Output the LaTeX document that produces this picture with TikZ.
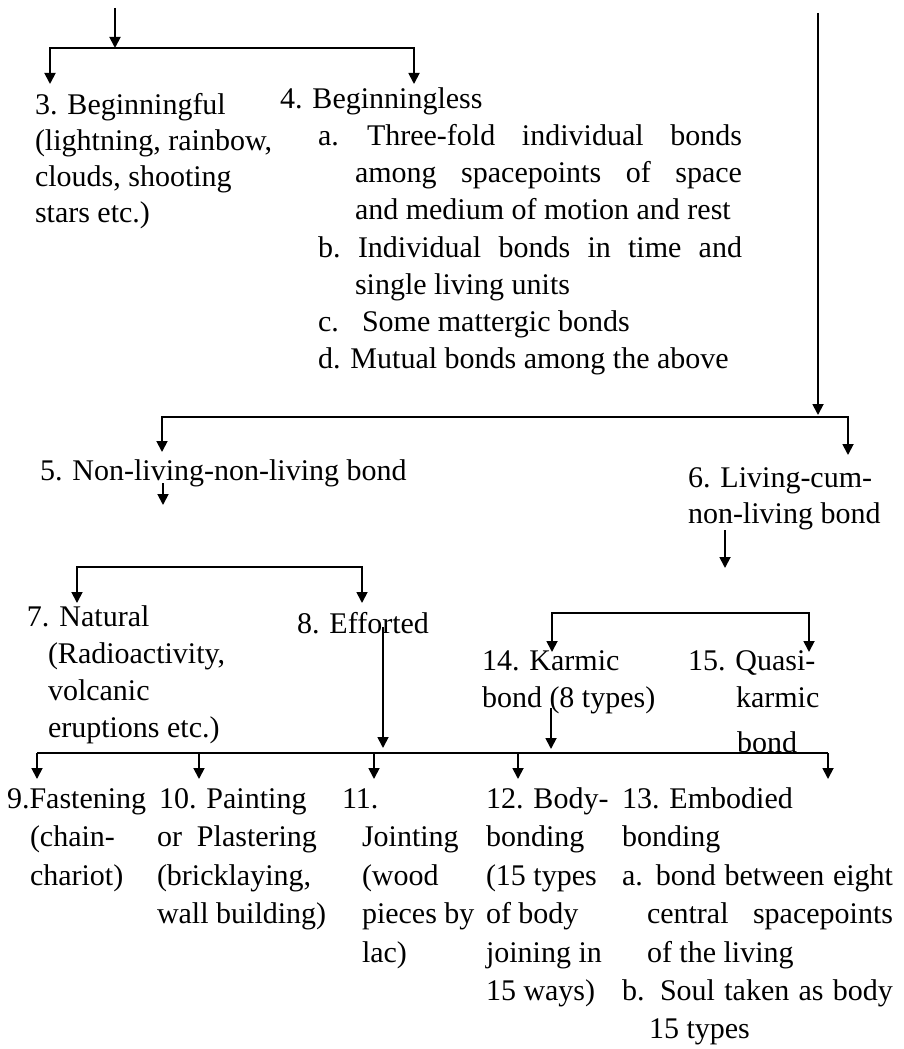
\documentclass[tikz,border=0pt]{standalone}
\usepackage{fontspec}
\setmainfont{Liberation Serif}
\usetikzlibrary{arrows.meta}
\begin{document}
\begin{tikzpicture}[x=1pt,y=-1pt,
  font=\fontsize{30}{36}\selectfont,
  txt/.style={anchor=base west, inner sep=0pt, outer sep=0pt},
  arr/.style={line width=1.8pt, -{Triangle[width=11pt,length=11pt]}},
  ln/.style={line width=1.8pt}]
\useasboundingbox (0,0) rectangle (904,1049);

% ---------- texts ----------
\node[txt] (t3a) at (35,114) {3. Beginningful};
\node[txt] (t3b) at (35,150) {(lightning, rainbow,};
\node[txt] (t3c) at (35,186) {clouds, shooting};
\node[txt] (t3d) at (35,222) {stars etc.)};

\node[txt] (t4)  at (280,108) {4. Beginningless};
\node[txt] (t4a) at (318,145) {a.};
\node[txt] (t4a1) at (367,145) {\makebox[375pt][s]{Three-fold individual bonds}};
\node[txt] (t4a2) at (355,182) {\makebox[387pt][s]{among spacepoints of space}};
\node[txt] (t4a3) at (355,219) {and medium of motion and rest};
\node[txt] (t4b) at (318,257) {b.};
\node[txt] (t4b1) at (358,257) {\makebox[384pt][s]{Individual bonds in time and}};
\node[txt] (t4b2) at (355,294) {single living units};
\node[txt] (t4c) at (318,331) {c.};
\node[txt] (t4c1) at (362,331) {Some mattergic bonds};
\node[txt] (t4d) at (318,368) {d. Mutual bonds among the above};

\node[txt] (t5) at (40,480) {5. Non-living-non-living bond};
\node[txt] (t6a) at (688,487) {6. Living-cum-};
\node[txt] (t6b) at (688,523) {non-living bond};

\node[txt] (t7a) at (27,626) {7. Natural};
\node[txt] (t7b) at (48,663) {(Radioactivity,};
\node[txt] (t7c) at (48,700) {volcanic};
\node[txt] (t7d) at (48,737) {eruptions etc.)};
\node[txt] (t8) at (297,633) {8. Efforted};

\node[txt] (t14a) at (482,670) {14. Karmic};
\node[txt] (t14b) at (482,707) {bond (8 types)};
\node[txt] (t15a) at (688,670) {15. Quasi-};
\node[txt] (t15b) at (736,707) {karmic};
\node[txt] (t15c) at (737,752) {bond};

\node[txt] (t9a) at (7,808) {9.Fastening};
\node[txt] (t9b) at (30,846) {(chain-};
\node[txt] (t9c) at (30,885) {chariot)};

\node[txt] (t10a) at (159,808) {10. Painting};
\node[txt] (t10b) at (157,846) {or\ \ Plastering};
\node[txt] (t10c) at (157,885) {(bricklaying,};
\node[txt] (t10d) at (157,923) {wall building)};

\node[txt] (t11a) at (342,808) {11.};
\node[txt] (t11b) at (362,846) {Jointing};
\node[txt] (t11c) at (362,885) {(wood};
\node[txt] (t11d) at (362,923) {pieces by};
\node[txt] (t11e) at (362,962) {lac)};

\node[txt] (t12a) at (486,808) {12. Body-};
\node[txt] (t12b) at (486,846) {bonding};
\node[txt] (t12c) at (486,885) {(15 types};
\node[txt] (t12d) at (486,923) {of body};
\node[txt] (t12e) at (486,962) {joining in};
\node[txt] (t12f) at (486,1000) {15 ways)};

\node[txt] (t13a) at (622,808) {13. Embodied};
\node[txt] (t13b) at (622,846) {bonding};
\node[txt] (t13c) at (622,885) {\makebox[271pt][s]{a. bond between eight}};
\node[txt] (t13d) at (647,923) {\makebox[246pt][s]{central spacepoints}};
\node[txt] (t13e) at (647,962) {of the living};
\node[txt] (t13f) at (622,1000) {\makebox[271pt][s]{b. Soul taken as body}};
\node[txt] (t13g) at (649,1038) {15 types};

% ---------- coordinates ----------
\coordinate (s1) at (115,8);
\coordinate (j1) at (115,48);
\coordinate (c1L) at (50,48);
\coordinate (c1R) at (414,48);
\coordinate (p3) at (50,84);
\coordinate (p4) at (414,84);

\coordinate (s2) at (818,13);
\coordinate (e2) at (818,415);
\coordinate (j2) at (818,417);
\coordinate (c2L) at (162,417);
\coordinate (c2R) at (848,417);
\coordinate (p5) at (162,452);
\coordinate (p6) at (848,455);

\coordinate (s5) at (163,483);
\coordinate (e5) at (163,505);
\coordinate (s6) at (725,530);
\coordinate (e6) at (725,568);

\coordinate (j3) at (220,567);
\coordinate (c3L) at (77,567);
\coordinate (c3R) at (362,567);
\coordinate (p7) at (77,603);
\coordinate (p8) at (362,603);

\coordinate (j4) at (680,613);
\coordinate (c4L) at (552,613);
\coordinate (c4R) at (809,613);
\coordinate (p14) at (552,652);
\coordinate (p15) at (809,652);

\coordinate (s8) at (383,627);
\coordinate (e8) at (383,748);
\coordinate (s14) at (551,708);
\coordinate (e14) at (551,749);

\coordinate (c5L) at (37,753);
\coordinate (c5R) at (828,753);
\coordinate (c5a) at (199,753);
\coordinate (c5b) at (374,753);
\coordinate (c5c) at (518,753);
\coordinate (p9) at (37,779);
\coordinate (p10) at (199,779);
\coordinate (p11) at (374,779);
\coordinate (p12) at (518,779);
\coordinate (p13) at (828,779);

% ---------- connectors ----------
\draw[arr] (s1) -- (j1);
\draw[arr] (j1) -- (c1L) -- (p3);
\draw[arr] (j1) -- (c1R) -- (p4);

\draw[arr] (s2) -- (e2);
\draw[arr] (j2) -- (c2L) -- (p5);
\draw[arr] (j2) -- (c2R) -- (p6);

\draw[arr] (s5) -- (e5);
\draw[arr] (s6) -- (e6);

\draw[arr] (j3) -- (c3L) -- (p7);
\draw[arr] (j3) -- (c3R) -- (p8);

\draw[arr] (j4) -- (c4L) -- (p14);
\draw[arr] (j4) -- (c4R) -- (p15);

\draw[arr] (s8) -- (e8);
\draw[arr] (s14) -- (e14);

\draw[ln] (c5L) -- (c5R);
\draw[arr] (c5L) -- (p9);
\draw[arr] (c5a) -- (p10);
\draw[arr] (c5b) -- (p11);
\draw[arr] (c5c) -- (p12);
\draw[arr] (c5R) -- (p13);
\end{tikzpicture}
\end{document}
